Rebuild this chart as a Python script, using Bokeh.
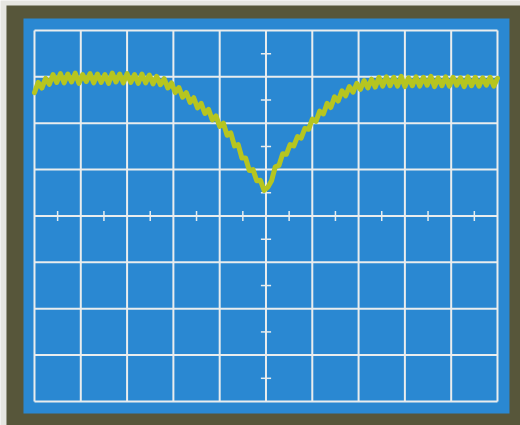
from bokeh.plotting import figure
from bokeh.embed import file_html
from bokeh.resources import INLINE
import numpy as np

# Oscilloscope graticule (divisions)
grid_x = [-5, -4, -3, -2, -1, 0, 1, 2, 3, 4, 5]
grid_y = [-4, -3, -2, -1, 0, 1, 2, 3, 4]
tick_x = [-4.5, -3.5, -2.5, -1.5, -0.5, 0.5, 1.5, 2.5, 3.5, 4.5]
tick_y = [-3.5, -2.5, -1.5, -0.5, 0.5, 1.5, 2.5, 3.5]

trace_y = [
    2.66, 2.88, 2.76, 2.97, 2.84, 3.05, 2.88, 3.07, 2.87, 3.06,
    2.89, 3.08, 2.86, 3.05, 2.90, 3.07, 2.87, 3.06, 2.88, 3.05,
    2.86, 3.08, 2.89, 3.06, 2.87, 3.07, 2.88, 3.05, 2.86, 3.06,
    2.87, 3.04, 2.85, 3.01, 2.83, 2.96, 2.76, 2.87, 2.66, 2.77,
    2.56, 2.66, 2.45, 2.55, 2.33, 2.43, 2.21, 2.30, 2.07, 2.16,
    1.93, 2.00, 1.74, 1.79, 1.51, 1.54, 1.25, 1.25, 0.98, 1.00,
    0.76, 0.77, 0.55, 0.62, 0.76, 1.06, 1.09, 1.34, 1.33, 1.54,
    1.51, 1.71, 1.68, 1.89, 1.87, 2.09, 2.04, 2.26, 2.20, 2.43,
    2.34, 2.57, 2.48, 2.70, 2.59, 2.79, 2.67, 2.86, 2.73, 2.92,
    2.76, 2.95, 2.78, 2.99, 2.80, 3.00, 2.81, 2.99, 2.80, 3.01,
    2.79, 2.98, 2.81, 3.00, 2.80, 2.99, 2.82, 3.01, 2.79, 2.98,
    2.81, 3.00, 2.80, 2.99, 2.82, 2.98, 2.79, 3.00, 2.81, 2.99,
    2.80, 2.98, 2.82, 2.99, 2.80, 2.97,
]
trace_x = np.linspace(grid_x[0], grid_x[-1], len(trace_y))

# bezel and screen extents (divisions)
bezel = dict(left=-5.605, right=5.6, top=4.539, bottom=-4.6)
screen = dict(left=-5.238, right=5.259, top=4.259, bottom=-4.259)

PAGE = "#e6e6e1"
BLUE = "#2a88d2"
OLIVE = "#57563a"
GRID = "#e9edee"
TRACE = "#b6c520"

p = figure(width=520, height=425, output_backend="svg", toolbar_location=None,
           x_range=(-5.734, 5.497), y_range=(-4.518, 4.647),
           min_border=0, min_border_left=0, min_border_right=0,
           min_border_top=0, min_border_bottom=0)
p.axis.visible = False
p.xgrid.visible = False
p.ygrid.visible = False
p.outline_line_color = None
p.background_fill_color = PAGE
p.border_fill_color = PAGE

p.quad(**bezel, fill_color=OLIVE, line_color=None)
p.quad(**screen, fill_color=BLUE, line_color=None)

# graticule
p.segment(x0=grid_x, y0=[grid_y[0]] * len(grid_x), x1=grid_x, y1=[grid_y[-1]] * len(grid_x),
          line_color=GRID, line_width=2)
p.segment(x0=[grid_x[0]] * len(grid_y), y0=grid_y, x1=[grid_x[-1]] * len(grid_y), y1=grid_y,
          line_color=GRID, line_width=2)
# centre-axis minor ticks
p.segment(x0=tick_x, y0=[-0.11] * len(tick_x), x1=tick_x, y1=[0.11] * len(tick_x),
          line_color=GRID, line_width=1.5)
p.segment(x0=[-0.11] * len(tick_y), y0=tick_y, x1=[0.11] * len(tick_y), y1=tick_y,
          line_color=GRID, line_width=1.5)

# trace
p.line(trace_x, trace_y, line_color=TRACE, line_width=5, line_join="round", line_cap="round")

open("out.html", "w").write(file_html(p, INLINE))
